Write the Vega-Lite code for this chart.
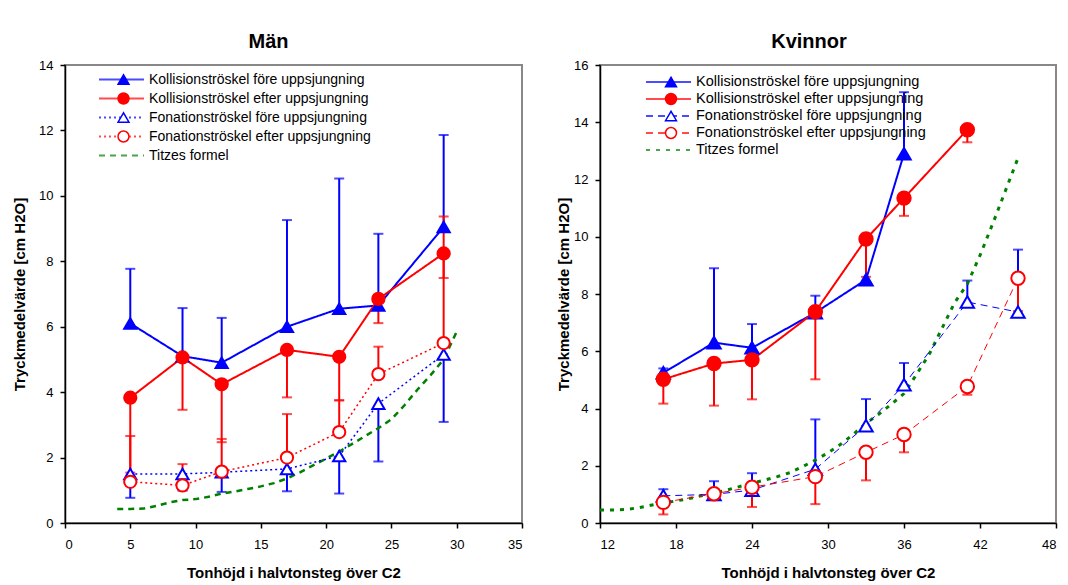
{
  "$schema": "https://vega.github.io/schema/vega-lite/v6.json",
  "background": "white",
  "padding": {"left": 11, "top": 31, "right": 0, "bottom": 0},
  "config": {
    "font": "Liberation Sans",
    "view": {"stroke": "#888888", "strokeWidth": 2},
    "axis": {"grid": false, "domainColor": "black", "domainWidth": 1.5, "tickColor": "black", "tickWidth": 1.5, "tickSize": 5, "labelFont": "Liberation Sans", "labelFontSize": 13, "labelColor": "black", "labelPadding": 7, "titleFont": "Liberation Sans", "titleFontSize": 15, "titleFontWeight": "bold", "titleColor": "black"},
    "axisX": {"labelPadding": 10, "titlePadding": 14},
    "title": {"font": "Liberation Sans", "fontSize": 20, "fontWeight": "bold", "color": "black", "offset": 7},
    "legend": {"title": null, "orient": "none", "padding": 0, "rowPadding": 0, "labelFont": "Liberation Sans", "labelFontSize": 14, "labelColor": "black", "labelLimit": 400, "labelOffset": 4}
  },
  "resolve": {
    "scale": {"color": "independent", "strokeDash": "independent", "shape": "independent", "fill": "independent", "stroke": "independent"},
    "legend": {"color": "independent", "strokeDash": "independent", "shape": "independent", "fill": "independent", "stroke": "independent"}
  },
  "datasets": {
    "man": [
      {"series": "Kollisionströskel före uppsjungning", "x": 5, "y": 6.1, "e": 7.77},
      {"series": "Kollisionströskel före uppsjungning", "x": 9, "y": 5.1, "e": 6.57},
      {"series": "Kollisionströskel före uppsjungning", "x": 12, "y": 4.9, "e": 6.27},
      {"series": "Kollisionströskel före uppsjungning", "x": 17, "y": 6.0, "e": 9.26},
      {"series": "Kollisionströskel före uppsjungning", "x": 21, "y": 6.55, "e": 10.53},
      {"series": "Kollisionströskel före uppsjungning", "x": 24, "y": 6.65, "e": 8.84},
      {"series": "Kollisionströskel före uppsjungning", "x": 29, "y": 9.05, "e": 11.86},
      {"series": "Kollisionströskel efter uppsjungning", "x": 5, "y": 3.83, "e": 1.54},
      {"series": "Kollisionströskel efter uppsjungning", "x": 9, "y": 5.06, "e": 3.46},
      {"series": "Kollisionströskel efter uppsjungning", "x": 12, "y": 4.24, "e": 2.47},
      {"series": "Kollisionströskel efter uppsjungning", "x": 17, "y": 5.29, "e": 3.84},
      {"series": "Kollisionströskel efter uppsjungning", "x": 21, "y": 5.08, "e": 3.75},
      {"series": "Kollisionströskel efter uppsjungning", "x": 24, "y": 6.85, "e": 6.11},
      {"series": "Kollisionströskel efter uppsjungning", "x": 29, "y": 8.24, "e": 7.49},
      {"series": "Fonationströskel före uppsjungning", "x": 5, "y": 1.5, "e": 0.77},
      {"series": "Fonationströskel före uppsjungning", "x": 9, "y": 1.5, "e": 0.99},
      {"series": "Fonationströskel före uppsjungning", "x": 12, "y": 1.55, "e": 0.95},
      {"series": "Fonationströskel före uppsjungning", "x": 17, "y": 1.65, "e": 0.97},
      {"series": "Fonationströskel före uppsjungning", "x": 21, "y": 2.05, "e": 0.9},
      {"series": "Fonationströskel före uppsjungning", "x": 24, "y": 3.65, "e": 1.88},
      {"series": "Fonationströskel före uppsjungning", "x": 29, "y": 5.15, "e": 3.09},
      {"series": "Fonationströskel efter uppsjungning", "x": 5, "y": 1.26, "e": 2.66},
      {"series": "Fonationströskel efter uppsjungning", "x": 9, "y": 1.15, "e": 1.8},
      {"series": "Fonationströskel efter uppsjungning", "x": 12, "y": 1.57, "e": 2.57},
      {"series": "Fonationströskel efter uppsjungning", "x": 17, "y": 2.0, "e": 3.33},
      {"series": "Fonationströskel efter uppsjungning", "x": 21, "y": 2.78, "e": 3.75},
      {"series": "Fonationströskel efter uppsjungning", "x": 24, "y": 4.55, "e": 5.39},
      {"series": "Fonationströskel efter uppsjungning", "x": 29, "y": 5.5, "e": 9.37},
      {"series": "Titzes formel", "x": 4, "y": 0.43},
      {"series": "Titzes formel", "x": 5, "y": 0.43},
      {"series": "Titzes formel", "x": 6, "y": 0.44},
      {"series": "Titzes formel", "x": 7, "y": 0.52},
      {"series": "Titzes formel", "x": 8, "y": 0.63},
      {"series": "Titzes formel", "x": 9, "y": 0.7},
      {"series": "Titzes formel", "x": 10, "y": 0.73},
      {"series": "Titzes formel", "x": 11, "y": 0.8},
      {"series": "Titzes formel", "x": 12, "y": 0.9},
      {"series": "Titzes formel", "x": 13, "y": 0.96},
      {"series": "Titzes formel", "x": 14, "y": 1.04},
      {"series": "Titzes formel", "x": 15, "y": 1.12},
      {"series": "Titzes formel", "x": 16, "y": 1.22},
      {"series": "Titzes formel", "x": 17, "y": 1.36},
      {"series": "Titzes formel", "x": 18, "y": 1.55},
      {"series": "Titzes formel", "x": 19, "y": 1.76},
      {"series": "Titzes formel", "x": 20, "y": 1.97},
      {"series": "Titzes formel", "x": 21, "y": 2.18},
      {"series": "Titzes formel", "x": 22, "y": 2.42},
      {"series": "Titzes formel", "x": 23, "y": 2.66},
      {"series": "Titzes formel", "x": 24, "y": 2.9},
      {"series": "Titzes formel", "x": 25, "y": 3.17},
      {"series": "Titzes formel", "x": 26, "y": 3.6},
      {"series": "Titzes formel", "x": 27, "y": 4.08},
      {"series": "Titzes formel", "x": 28, "y": 4.52},
      {"series": "Titzes formel", "x": 29, "y": 5.0},
      {"series": "Titzes formel", "x": 30, "y": 5.85}
    ],
    "kvinnor": [
      {"series": "Kollisionströskel före uppsjungning", "x": 17, "y": 5.25, "e": 5.4},
      {"series": "Kollisionströskel före uppsjungning", "x": 21, "y": 6.3, "e": 8.9},
      {"series": "Kollisionströskel före uppsjungning", "x": 24, "y": 6.12, "e": 6.95},
      {"series": "Kollisionströskel före uppsjungning", "x": 29, "y": 7.35, "e": 7.94},
      {"series": "Kollisionströskel före uppsjungning", "x": 33, "y": 8.5, "e": 10.1},
      {"series": "Kollisionströskel före uppsjungning", "x": 36, "y": 12.9, "e": 15.05},
      {"series": "Kollisionströskel efter uppsjungning", "x": 17, "y": 5.02, "e": 4.17},
      {"series": "Kollisionströskel efter uppsjungning", "x": 21, "y": 5.57, "e": 4.1},
      {"series": "Kollisionströskel efter uppsjungning", "x": 24, "y": 5.7, "e": 4.32},
      {"series": "Kollisionströskel efter uppsjungning", "x": 29, "y": 7.38, "e": 5.02},
      {"series": "Kollisionströskel efter uppsjungning", "x": 33, "y": 9.92, "e": 8.6},
      {"series": "Kollisionströskel efter uppsjungning", "x": 36, "y": 11.35, "e": 10.73},
      {"series": "Kollisionströskel efter uppsjungning", "x": 41, "y": 13.74, "e": 13.3},
      {"series": "Fonationströskel före uppsjungning", "x": 17, "y": 0.95, "e": 1.18},
      {"series": "Fonationströskel före uppsjungning", "x": 21, "y": 1.0, "e": 1.46},
      {"series": "Fonationströskel före uppsjungning", "x": 24, "y": 1.15, "e": 1.74},
      {"series": "Fonationströskel före uppsjungning", "x": 29, "y": 1.88, "e": 3.62},
      {"series": "Fonationströskel före uppsjungning", "x": 33, "y": 3.4, "e": 4.33},
      {"series": "Fonationströskel före uppsjungning", "x": 36, "y": 4.83, "e": 5.59},
      {"series": "Fonationströskel före uppsjungning", "x": 41, "y": 7.72, "e": 8.47},
      {"series": "Fonationströskel före uppsjungning", "x": 45, "y": 7.37, "e": 9.55},
      {"series": "Fonationströskel efter uppsjungning", "x": 17, "y": 0.72, "e": 0.3},
      {"series": "Fonationströskel efter uppsjungning", "x": 21, "y": 1.02, "e": 0.8},
      {"series": "Fonationströskel efter uppsjungning", "x": 24, "y": 1.25, "e": 0.56},
      {"series": "Fonationströskel efter uppsjungning", "x": 29, "y": 1.62, "e": 0.66},
      {"series": "Fonationströskel efter uppsjungning", "x": 33, "y": 2.47, "e": 1.49},
      {"series": "Fonationströskel efter uppsjungning", "x": 36, "y": 3.09, "e": 2.47},
      {"series": "Fonationströskel efter uppsjungning", "x": 41, "y": 4.77, "e": 4.48},
      {"series": "Fonationströskel efter uppsjungning", "x": 45, "y": 8.55, "e": 7.4},
      {"series": "Titzes formel", "x": 12, "y": 0.45},
      {"series": "Titzes formel", "x": 13, "y": 0.45},
      {"series": "Titzes formel", "x": 14, "y": 0.47},
      {"series": "Titzes formel", "x": 15, "y": 0.53},
      {"series": "Titzes formel", "x": 16, "y": 0.62},
      {"series": "Titzes formel", "x": 17, "y": 0.7},
      {"series": "Titzes formel", "x": 18, "y": 0.77},
      {"series": "Titzes formel", "x": 19, "y": 0.85},
      {"series": "Titzes formel", "x": 20, "y": 0.95},
      {"series": "Titzes formel", "x": 21, "y": 1.04},
      {"series": "Titzes formel", "x": 22, "y": 1.15},
      {"series": "Titzes formel", "x": 23, "y": 1.27},
      {"series": "Titzes formel", "x": 24, "y": 1.39},
      {"series": "Titzes formel", "x": 25, "y": 1.5},
      {"series": "Titzes formel", "x": 26, "y": 1.62},
      {"series": "Titzes formel", "x": 27, "y": 1.76},
      {"series": "Titzes formel", "x": 28, "y": 1.97},
      {"series": "Titzes formel", "x": 29, "y": 2.2},
      {"series": "Titzes formel", "x": 30, "y": 2.45},
      {"series": "Titzes formel", "x": 31, "y": 2.75},
      {"series": "Titzes formel", "x": 32, "y": 3.1},
      {"series": "Titzes formel", "x": 33, "y": 3.48},
      {"series": "Titzes formel", "x": 34, "y": 3.8},
      {"series": "Titzes formel", "x": 35, "y": 4.15},
      {"series": "Titzes formel", "x": 36, "y": 4.52},
      {"series": "Titzes formel", "x": 37, "y": 5.2},
      {"series": "Titzes formel", "x": 38, "y": 5.9},
      {"series": "Titzes formel", "x": 39, "y": 6.8},
      {"series": "Titzes formel", "x": 40, "y": 7.7},
      {"series": "Titzes formel", "x": 41, "y": 8.35},
      {"series": "Titzes formel", "x": 42, "y": 9.35},
      {"series": "Titzes formel", "x": 43, "y": 10.45},
      {"series": "Titzes formel", "x": 44, "y": 11.6},
      {"series": "Titzes formel", "x": 45, "y": 12.75}
    ]
  },
  "hconcat": [
    {
      "title": {"text": "Män", "dx": -25},
      "width": 457,
      "height": 458,
      "data": {"name": "man"},
      "encoding": {
        "x": {"field": "x", "type": "quantitative", "scale": {"domain": [0, 35], "nice": false}, "axis": {"values": [0, 5, 10, 15, 20, 25, 30, 35], "title": "Tonhöjd i halvtonsteg över C2"}},
        "y": {"field": "y", "type": "quantitative", "scale": {"domain": [0, 14], "nice": false}, "axis": {"values": [0, 2, 4, 6, 8, 10, 12, 14], "title": "Tryckmedelvärde [cm H2O]", "titlePadding": 11}},
        "color": {"field": "series", "type": "nominal",
          "scale": {"domain": ["Kollisionströskel före uppsjungning", "Kollisionströskel efter uppsjungning", "Fonationströskel före uppsjungning", "Fonationströskel efter uppsjungning", "Titzes formel"], "range": ["#0000FF", "#FF0000", "#0000FF", "#FF0000", "#008000"]},
          "legend": {"symbolType": "stroke", "symbolSize": 2025, "symbolStrokeWidth": 2, "clipHeight": 19, "legendX": 33, "legendY": 5}}
      },
      "layer": [
        {
          "transform": [{"filter": "datum.e != null"}],
          "mark": {"type": "rule", "strokeWidth": 2},
          "encoding": {"y2": {"field": "e"}}
        },
        {
          "transform": [{"filter": "datum.e != null"}],
          "mark": {"type": "tick", "orient": "horizontal", "size": 10, "thickness": 2},
          "encoding": {"y": {"field": "e", "type": "quantitative"}}
        },
        {
          "transform": [{"filter": "datum.series == 'Titzes formel'"}],
          "mark": {"type": "line", "strokeWidth": 2.5},
          "encoding": {
            "strokeDash": {"field": "series", "type": "nominal",
              "scale": {"domain": ["Kollisionströskel före uppsjungning", "Kollisionströskel efter uppsjungning", "Fonationströskel före uppsjungning", "Fonationströskel efter uppsjungning", "Titzes formel"], "range": [[1, 0], [1, 0], [2, 3], [2, 3], [6, 5]]},
              "legend": {"symbolType": "stroke", "symbolSize": 2025, "symbolStrokeWidth": 2, "clipHeight": 19, "legendX": 33, "legendY": 5}}
          }
        },
        {
          "transform": [{"filter": "indexof(datum.series, 'Fonation') == 0"}],
          "mark": {"type": "line", "strokeWidth": 1.5},
          "encoding": {
            "strokeDash": {"field": "series", "type": "nominal",
              "scale": {"domain": ["Kollisionströskel före uppsjungning", "Kollisionströskel efter uppsjungning", "Fonationströskel före uppsjungning", "Fonationströskel efter uppsjungning", "Titzes formel"], "range": [[1, 0], [1, 0], [2, 3], [2, 3], [6, 5]]},
              "legend": {"symbolType": "stroke", "symbolSize": 2025, "symbolStrokeWidth": 2, "clipHeight": 19, "legendX": 33, "legendY": 5}}
          }
        },
        {
          "transform": [{"filter": "indexof(datum.series, 'Kollision') == 0"}],
          "mark": {"type": "line", "strokeWidth": 2},
          "encoding": {
            "strokeDash": {"field": "series", "type": "nominal",
              "scale": {"domain": ["Kollisionströskel före uppsjungning", "Kollisionströskel efter uppsjungning", "Fonationströskel före uppsjungning", "Fonationströskel efter uppsjungning", "Titzes formel"], "range": [[1, 0], [1, 0], [2, 3], [2, 3], [6, 5]]},
              "legend": {"symbolType": "stroke", "symbolSize": 2025, "symbolStrokeWidth": 2, "clipHeight": 19, "legendX": 33, "legendY": 5}}
          }
        },
        {
          "transform": [{"filter": "datum.series != 'Titzes formel'"}],
          "mark": {"type": "point", "filled": true, "size": 150, "strokeWidth": 2, "opacity": 1},
          "encoding": {
            "color": null,
            "shape": {"field": "series", "type": "nominal",
              "scale": {"domain": ["Kollisionströskel före uppsjungning", "Kollisionströskel efter uppsjungning", "Fonationströskel före uppsjungning", "Fonationströskel efter uppsjungning"], "range": ["triangle-up", "circle", "triangle-up", "circle"]},
              "legend": {"symbolSize": 120, "symbolStrokeWidth": 1.5, "clipHeight": 19, "legendX": 51.5, "legendY": 5, "labelExpr": "''"}},
            "stroke": {"field": "series", "type": "nominal",
              "scale": {"domain": ["Kollisionströskel före uppsjungning", "Kollisionströskel efter uppsjungning", "Fonationströskel före uppsjungning", "Fonationströskel efter uppsjungning"], "range": ["#0000FF", "#FF0000", "#0000FF", "#FF0000"]},
              "legend": {"symbolSize": 120, "symbolStrokeWidth": 1.5, "clipHeight": 19, "legendX": 51.5, "legendY": 5, "labelExpr": "''"}},
            "fill": {"field": "series", "type": "nominal",
              "scale": {"domain": ["Kollisionströskel före uppsjungning", "Kollisionströskel efter uppsjungning", "Fonationströskel före uppsjungning", "Fonationströskel efter uppsjungning"], "range": ["#0000FF", "#FF0000", "#FFFFFF", "#FFFFFF"]},
              "legend": {"symbolSize": 120, "symbolStrokeWidth": 1.5, "clipHeight": 19, "legendX": 51.5, "legendY": 5, "labelExpr": "''"}}
          }
        }
      ]
    },
    {
      "title": {"text": "Kvinnor", "dx": -19},
      "width": 456,
      "height": 458,
      "data": {"name": "kvinnor"},
      "encoding": {
        "x": {"field": "x", "type": "quantitative", "scale": {"domain": [12, 48], "nice": false}, "axis": {"values": [12, 18, 24, 30, 36, 42, 48], "title": "Tonhöjd i halvtonsteg över C2"}},
        "y": {"field": "y", "type": "quantitative", "scale": {"domain": [0, 16], "nice": false}, "axis": {"values": [0, 2, 4, 6, 8, 10, 12, 14, 16], "title": "Tryckmedelvärde [cm H2O]", "titlePadding": 2}},
        "color": {"field": "series", "type": "nominal",
          "scale": {"domain": ["Kollisionströskel före uppsjungning", "Kollisionströskel efter uppsjungning", "Fonationströskel före uppsjungning", "Fonationströskel efter uppsjungning", "Titzes formel"], "range": ["#0000FF", "#FF0000", "#0000FF", "#FF0000", "#008000"]},
          "legend": {"symbolType": "stroke", "symbolSize": 2025, "symbolStrokeWidth": 2, "clipHeight": 17, "legendX": 45, "legendY": 8.5, "labelFontSize": 14.5}}
      },
      "layer": [
        {
          "transform": [{"filter": "datum.e != null"}],
          "mark": {"type": "rule", "strokeWidth": 2},
          "encoding": {"y2": {"field": "e"}}
        },
        {
          "transform": [{"filter": "datum.e != null"}],
          "mark": {"type": "tick", "orient": "horizontal", "size": 10, "thickness": 2},
          "encoding": {"y": {"field": "e", "type": "quantitative"}}
        },
        {
          "transform": [{"filter": "datum.series == 'Titzes formel'"}],
          "mark": {"type": "line", "strokeWidth": 3},
          "encoding": {
            "strokeDash": {"field": "series", "type": "nominal",
              "scale": {"domain": ["Kollisionströskel före uppsjungning", "Kollisionströskel efter uppsjungning", "Fonationströskel före uppsjungning", "Fonationströskel efter uppsjungning", "Titzes formel"], "range": [[1, 0], [1, 0], [7, 5], [7, 5], [4, 6]]},
              "legend": {"symbolType": "stroke", "symbolSize": 2025, "symbolStrokeWidth": 2, "clipHeight": 17, "legendX": 45, "legendY": 8.5, "labelFontSize": 14.5}}
          }
        },
        {
          "transform": [{"filter": "indexof(datum.series, 'Fonation') == 0"}],
          "mark": {"type": "line", "strokeWidth": 1},
          "encoding": {
            "strokeDash": {"field": "series", "type": "nominal",
              "scale": {"domain": ["Kollisionströskel före uppsjungning", "Kollisionströskel efter uppsjungning", "Fonationströskel före uppsjungning", "Fonationströskel efter uppsjungning", "Titzes formel"], "range": [[1, 0], [1, 0], [7, 5], [7, 5], [4, 6]]},
              "legend": {"symbolType": "stroke", "symbolSize": 2025, "symbolStrokeWidth": 2, "clipHeight": 17, "legendX": 45, "legendY": 8.5, "labelFontSize": 14.5}}
          }
        },
        {
          "transform": [{"filter": "indexof(datum.series, 'Kollision') == 0"}],
          "mark": {"type": "line", "strokeWidth": 2},
          "encoding": {
            "strokeDash": {"field": "series", "type": "nominal",
              "scale": {"domain": ["Kollisionströskel före uppsjungning", "Kollisionströskel efter uppsjungning", "Fonationströskel före uppsjungning", "Fonationströskel efter uppsjungning", "Titzes formel"], "range": [[1, 0], [1, 0], [7, 5], [7, 5], [4, 6]]},
              "legend": {"symbolType": "stroke", "symbolSize": 2025, "symbolStrokeWidth": 2, "clipHeight": 17, "legendX": 45, "legendY": 8.5, "labelFontSize": 14.5}}
          }
        },
        {
          "transform": [{"filter": "datum.series != 'Titzes formel'"}],
          "mark": {"type": "point", "filled": true, "size": 180, "strokeWidth": 2, "opacity": 1},
          "encoding": {
            "color": null,
            "shape": {"field": "series", "type": "nominal",
              "scale": {"domain": ["Kollisionströskel före uppsjungning", "Kollisionströskel efter uppsjungning", "Fonationströskel före uppsjungning", "Fonationströskel efter uppsjungning"], "range": ["triangle-up", "circle", "triangle-up", "circle"]},
              "legend": {"symbolSize": 120, "symbolStrokeWidth": 1.5, "clipHeight": 17, "legendX": 64, "legendY": 8.5, "labelExpr": "''"}},
            "stroke": {"field": "series", "type": "nominal",
              "scale": {"domain": ["Kollisionströskel före uppsjungning", "Kollisionströskel efter uppsjungning", "Fonationströskel före uppsjungning", "Fonationströskel efter uppsjungning"], "range": ["#0000FF", "#FF0000", "#0000FF", "#FF0000"]},
              "legend": {"symbolSize": 120, "symbolStrokeWidth": 1.5, "clipHeight": 17, "legendX": 64, "legendY": 8.5, "labelExpr": "''"}},
            "fill": {"field": "series", "type": "nominal",
              "scale": {"domain": ["Kollisionströskel före uppsjungning", "Kollisionströskel efter uppsjungning", "Fonationströskel före uppsjungning", "Fonationströskel efter uppsjungning"], "range": ["#0000FF", "#FF0000", "#FFFFFF", "#FFFFFF"]},
              "legend": {"symbolSize": 120, "symbolStrokeWidth": 1.5, "clipHeight": 17, "legendX": 64, "legendY": 8.5, "labelExpr": "''"}}
          }
        }
      ]
    }
  ],
  "spacing": 78,
  "bounds": "flush"
}
